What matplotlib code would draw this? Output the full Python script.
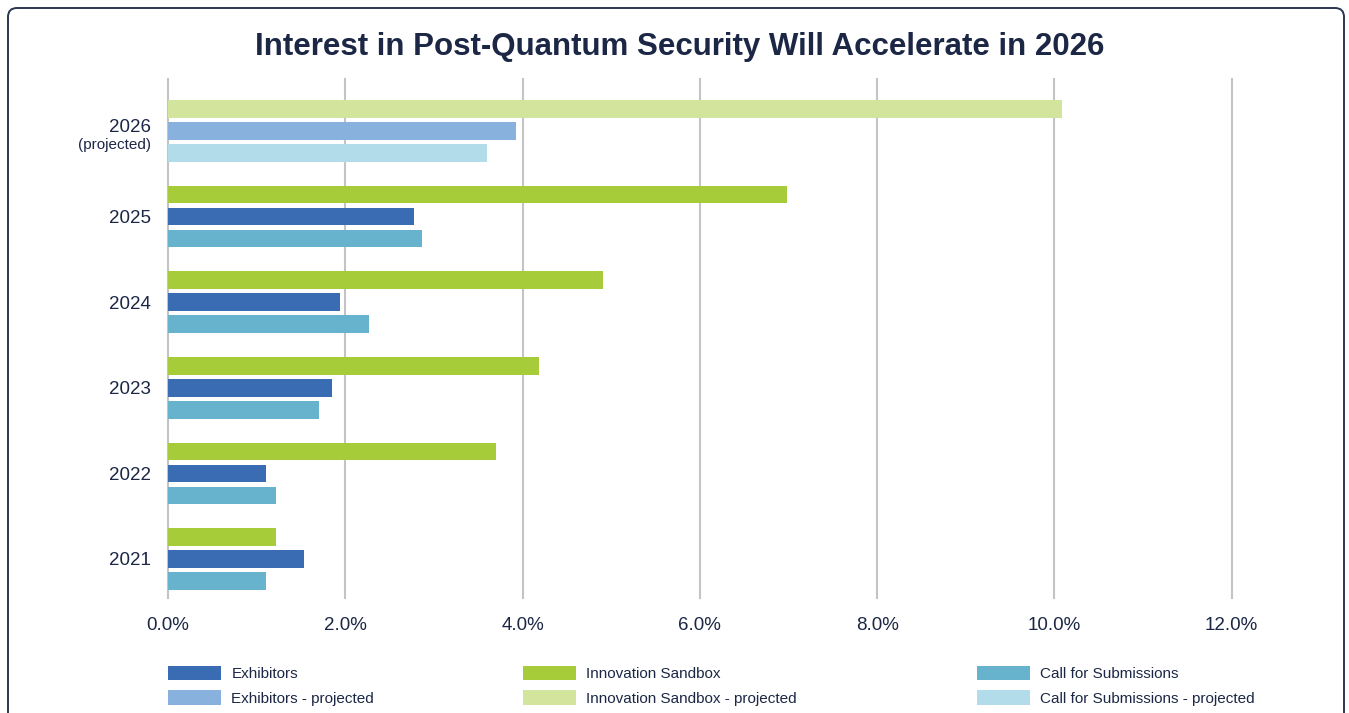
import matplotlib
matplotlib.use("Agg")
import matplotlib.pyplot as plt
from matplotlib.patches import FancyBboxPatch, Patch
from matplotlib.transforms import IdentityTransform
import numpy as np

plt.rcParams['font.family'] = ['Liberation Sans', 'DejaVu Sans']

# data (percent), bottom to top
years = ['2021', '2022', '2023', '2024', '2025', '2026']
sandbox = [1.22, 3.70, 4.18, 4.91, 6.98, 10.09]
exhibitors = [1.53, 1.10, 1.85, 1.94, 2.78, 3.93]
submissions = [1.10, 1.22, 1.70, 2.27, 2.86, 3.60]
xticks = [0, 2, 4, 6, 8, 10, 12]

navy = '#1b2745'
c_exh, c_exh_p = '#3a6cb4', '#88b2dd'
c_is, c_is_p = '#a6cd39', '#d3e49d'
c_cfs, c_cfs_p = '#67b2cc', '#b3dcea'

fig = plt.figure(figsize=(13.49, 7.13), dpi=100)
ax = fig.add_axes([168/1349, 1-598/713, (1231.7-168)/1349, (598-79)/713])

y = np.arange(len(years))
h = 0.207
off = 0.257
proj = [yr == '2026' for yr in years]

def cols(c, cp):
    return [cp if p else c for p in proj]

ax.barh(y + off, sandbox, height=h, color=cols(c_is, c_is_p), zorder=3)
ax.barh(y, exhibitors, height=h, color=cols(c_exh, c_exh_p), zorder=3)
ax.barh(y - off, submissions, height=h, color=cols(c_cfs, c_cfs_p), zorder=3)

ax.set_xlim(0, 12)
ax.set_ylim(-0.456, 5.607)
ax.set_xticks(xticks)
ax.set_xticklabels([f'{v:.1f}%' for v in xticks], fontsize=13.5, color=navy)
ax.set_yticks(y)
ax.set_yticklabels([yr if yr != '2026' else '' for yr in years], fontsize=13.5, color=navy)
ax.text(-0.19, 5.04, '2026', transform=ax.transData, ha='right', va='center',
        fontsize=13.5, color=navy)
ax.text(-0.19, 4.84, '(projected)', transform=ax.transData, ha='right', va='center',
        fontsize=11, color=navy)
ax.tick_params(length=0, pad=12)
ax.tick_params(axis='x', pad=14)
ax.grid(axis='x', color='#c4c4c4', linewidth=1.5, zorder=0)
for gl in ax.get_xgridlines():
    gl.set_clip_on(False)
for s in ax.spines.values():
    s.set_visible(False)

fig.text(680/1349, 1-47/713, 'Interest in Post-Quantum Security Will Accelerate in 2026',
         ha='center', va='center', fontsize=22.5, fontweight='bold', color=navy)

# legend, three columns of two entries
groups = [
    (168, [('Exhibitors', c_exh), ('Exhibitors - projected', c_exh_p)]),
    (523, [('Innovation Sandbox', c_is), ('Innovation Sandbox - projected', c_is_p)]),
    (977, [('Call for Submissions', c_cfs), ('Call for Submissions - projected', c_cfs_p)]),
]
for xpx, items in groups:
    handles = [Patch(facecolor=c, edgecolor='none', label=l) for l, c in items]
    leg = fig.legend(handles=handles, loc='upper left',
                     bbox_to_anchor=(xpx/1349, 1-666/713), frameon=False,
                     fontsize=11, handlelength=3.5, handleheight=1.05,
                     handletextpad=0.65, labelspacing=0.6, borderpad=0,
                     borderaxespad=0)
    for t in leg.get_texts():
        t.set_color(navy)

# rounded frame, bottom edge runs off the canvas
border = FancyBboxPatch((8, -30), 1336, 713 - 8 + 30,
                        boxstyle='round,pad=0,rounding_size=9',
                        transform=IdentityTransform(), facecolor='none',
                        edgecolor='#2b3652', linewidth=1.4, clip_on=False)
fig.patches.append(border)

fig.savefig('out.png', dpi=100)
